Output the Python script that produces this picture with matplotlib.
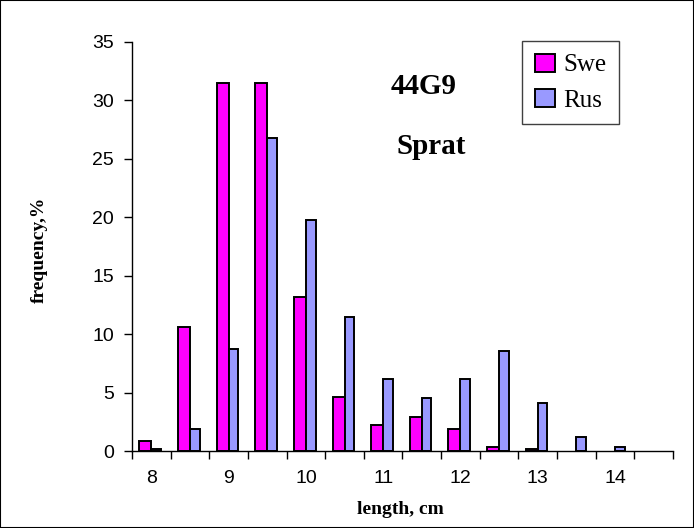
import numpy as np
import matplotlib
matplotlib.use("Agg")
import matplotlib.pyplot as plt
from matplotlib.patches import Rectangle

# length classes (cm), last class is empty
lengths = ['8', '8.5', '9', '9.5', '10', '10.5', '11', '11.5', '12', '12.5', '13', '13.5', '14', '14.5']
swe = [0.86, 10.6, 31.45, 31.45, 13.2, 4.6, 2.25, 2.9, 1.9, 0.35, 0.2, 0, 0, 0]
rus = [0.2, 1.9, 8.7, 26.8, 19.8, 11.45, 6.2, 4.5, 6.2, 8.6, 4.15, 1.2, 0.37, 0]
tick_labels = ['8', '9', '10', '11', '12', '13', '14']

x = np.arange(len(lengths))
# empty classes get no bar at all
swe_h = np.where(np.array(swe) > 0, swe, np.nan)
rus_h = np.where(np.array(rus) > 0, rus, np.nan)

fig = plt.figure(figsize=(6.94, 5.28), dpi=100)
ax = fig.add_axes([132/694, 1-451/528, (673-132)/694, (451-42)/528])

ax.bar(x - 0.155, swe_h, width=0.31, color='#ff00ff', edgecolor='black', linewidth=1.4, label='Swe')
ax.bar(x + 0.125, rus_h, width=0.25, color='#9999ff', edgecolor='black', linewidth=1.4, label='Rus')

ax.set_xlim(-0.5, len(lengths) - 0.5)
ax.set_ylim(0, 35)
ax.set_yticks(range(0, 36, 5))

# tick marks between classes, labels on whole cm
ax.set_xticks(np.arange(len(lengths) + 1) - 0.5)
ax.set_xticklabels([])
ax.set_xticks(x[::2][:len(tick_labels)], tick_labels, minor=True)
ax.tick_params(axis='x', which='major', direction='out', length=6, width=1)
ax.tick_params(axis='x', which='minor', length=0, pad=14, labelsize=14)
ax.tick_params(axis='y', direction='out', length=6, width=1, pad=7, labelsize=14)
for lab in ax.get_xticklabels(minor=True) + ax.get_yticklabels():
    lab.set_fontfamily('Liberation Sans')

for s in ['top', 'right']:
    ax.spines[s].set_visible(False)
for s in ['left', 'bottom']:
    ax.spines[s].set_linewidth(1)

serif = 'Liberation Serif'
fig.text(400/694, 1-509/528, 'length, cm', ha='center', va='center',
         family=serif, weight='bold', fontsize=14)
fig.text(39/694, 1-250/528, 'frequency,%', ha='center', va='center', rotation=90,
         family=serif, weight='bold', fontsize=14)
fig.text(424/694, 1-86/528, '44G9', ha='center', va='center',
         family=serif, weight='bold', fontsize=21)
fig.text(431/694, 1-146/528, 'Sprat', ha='center', va='center',
         family=serif, weight='bold', fontsize=21)

leg = fig.legend(loc='upper left', bbox_to_anchor=(522/694, 1-41/528), borderaxespad=0,
                 prop={'family': serif, 'size': 18}, fancybox=False,
                 edgecolor='#404040', framealpha=1, handlelength=0.8,
                 handleheight=0.75, handletextpad=0.35, borderpad=0.5, labelspacing=0.5)
leg.get_frame().set_linewidth(1)

fig.patches.append(Rectangle((0, 0), 1, 1, transform=fig.transFigure, fill=False,
                             edgecolor='black', linewidth=1.5))

fig.savefig('out.png', dpi=100)
